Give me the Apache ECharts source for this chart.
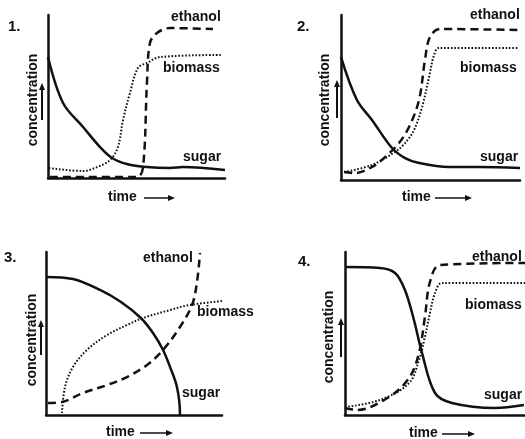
<!DOCTYPE html>
<html>
<head>
<meta charset="utf-8">
<script src="https://cdn.jsdelivr.net/npm/echarts@6/dist/echarts.min.js"></script>
<style>
  html, body { margin: 0; padding: 0; background: #fff; }
  #chart { width: 525px; height: 439px; }
</style>
</head>
<body>
<div id="chart"></div>
<script>
const panelNames = ['1.', '2.', '3.', '4.'];
const seriesNames = ['sugar', 'ethanol', 'biomass'];

const p1Sugar = [[0, 74.2], [8.5, 46], [19.8, 31.3], [29.4, 19], [36.2, 12.3], [44.6, 8.6], [55.9, 6.7], [68.9, 6.1], [76.3, 6.7], [100, 4.9]];
const p1Ethanol = [[1.1, 0.6], [50.3, 0.6], [53.7, 6.7], [55.9, 58.3], [57.6, 82.8], [61.6, 89], [68.9, 92], [93.2, 91.4]];
const p1Biomass = [[0.5, 6.1], [19.8, 4.3], [27.7, 6.7], [35, 11], [39.5, 19], [42.4, 35.6], [46.3, 52.1], [50.8, 67.5], [55.9, 70.6], [63.3, 74.2], [98.3, 75.5]];

const p2Sugar = [[0, 74.5], [8.9, 48.5], [17.3, 36.4], [28.5, 19.4], [35.8, 13.3], [43.6, 10.3], [60.3, 7.9], [77.1, 7.9], [100, 7.3]];
const p2Ethanol = [[1.7, 4.8], [7.8, 4.2], [17.3, 7.9], [24.6, 13.9], [32.4, 22.4], [38, 32.1], [43.6, 48.5], [46.9, 72.7], [49.7, 86.7], [55.3, 91.5], [100, 90.9]];
const p2Biomass = [[1.7, 4.8], [17.3, 9.1], [30.2, 17], [35.8, 22.4], [40.8, 30.3], [45.3, 44.2], [49.2, 62.4], [52, 75.8], [54.7, 80], [99.4, 80]];

const p3Sugar = [[0, 84.7], [15.3, 83.4], [30.7, 76.7], [42.6, 69.3], [53.9, 59.5], [60.8, 50.3], [66.5, 39.9], [70.5, 29.4], [74.4, 17.2], [76.1, 1.2], [76.1, 0]];
const p3Ethanol = [[1.1, 7.4], [9.1, 8], [21, 13.5], [34.7, 18.4], [46, 23.3], [57.4, 30.7], [66.5, 39.9], [76.1, 54], [83, 67.5], [85.8, 81.6], [87.5, 99.4]];
const p3Biomass = [[9.1, 1.2], [10.8, 17.2], [15.3, 29.4], [23.3, 39.9], [34.7, 49.1], [46, 55.2], [55.1, 59.5], [70.5, 64.4], [81.8, 67.5], [106.3, 70.6]];

const p4Sugar = [[0, 90.8], [19.4, 90.2], [27.8, 87.1], [33.3, 76.7], [38.3, 58.3], [42.8, 38], [50, 13.5], [59.4, 7.4], [83.3, 4.3], [99.4, 6.1]];
const p4Ethanol = [[0, 4.3], [6.7, 3.1], [24.4, 11], [35.6, 22.7], [41.1, 38], [44.4, 60.1], [47.2, 81.6], [52.8, 92], [100, 93.3]];
const p4Biomass = [[0, 4.9], [19.4, 9.2], [35.6, 19.6], [41.1, 33.7], [44.4, 47.9], [47.2, 62.6], [50, 74.8], [53.9, 81], [100, 81]];

const panelData = [
  [p1Sugar, p1Ethanol, p1Biomass],
  [p2Sugar, p2Ethanol, p2Biomass],
  [p3Sugar, p3Ethanol, p3Biomass],
  [p4Sugar, p4Ethanol, p4Biomass]
];

const grids = [
  { left: 48, top: 15, width: 177, height: 163 },
  { left: 341, top: 15, width: 179, height: 165 },
  { left: 46, top: 252, width: 176, height: 163 },
  { left: 345, top: 252, width: 180, height: 163 }
];

// label spots: number, ethanol, biomass, sugar, time, concentration, up-arrow
const spots = [
  { num: [8, 27], eth: [171, 17], bio: [163, 68], sug: [183, 157], time: [108, 197, 144, 175], conc: [33, 100], up: [42, 120, 83] },
  { num: [297, 27], eth: [470, 15], bio: [460, 68], sug: [480, 157], time: [402, 197, 435, 472], conc: [325, 100], up: [337, 118, 80] },
  { num: [4, 258], eth: [143, 258], bio: [197, 312], sug: [182, 393], time: [106, 432, 140, 173], conc: [32, 340], up: [41, 355, 320] },
  { num: [298, 262], eth: [472, 257], bio: [465, 305], sug: [484, 395], time: [409, 433, 442, 475], conc: [329, 337], up: [341, 357, 318] }
];

const font = 'bold 14px "Liberation Sans", Arial, sans-serif';
const ink = '#111';

function txt(s, x, y, size) {
  return {
    type: 'text', x: x, y: y,
    style: { text: s, font: size ? 'bold ' + size + 'px "Liberation Sans", Arial, sans-serif' : font, fill: ink, textVerticalAlign: 'middle' }
  };
}

const graphic = [];
spots.forEach((s, i) => {
  graphic.push(txt(panelNames[i], s.num[0], s.num[1], 15));
  graphic.push(txt('ethanol', s.eth[0], s.eth[1]));
  graphic.push(txt('biomass', s.bio[0], s.bio[1]));
  graphic.push(txt('sugar', s.sug[0], s.sug[1]));
  graphic.push(txt('time', s.time[0], s.time[1]));
  // time arrow
  const ay = s.time[1] + 1;
  graphic.push({ type: 'line', shape: { x1: s.time[2], y1: ay, x2: s.time[3] - 5, y2: ay }, style: { stroke: ink, lineWidth: 1.5 } });
  graphic.push({ type: 'polygon', shape: { points: [[s.time[3], ay], [s.time[3] - 7, ay - 3], [s.time[3] - 7, ay + 3]] }, style: { fill: ink } });
  // concentration label
  graphic.push({
    type: 'text', x: s.conc[0], y: s.conc[1], rotation: Math.PI / 2,
    style: { text: 'concentration', font: font, fill: ink, textAlign: 'center', textVerticalAlign: 'middle' }
  });
  // up arrow
  graphic.push({ type: 'line', shape: { x1: s.up[0], y1: s.up[1], x2: s.up[0], y2: s.up[2] + 5 }, style: { stroke: ink, lineWidth: 2 } });
  graphic.push({ type: 'polygon', shape: { points: [[s.up[0], s.up[2]], [s.up[0] - 3, s.up[2] + 7], [s.up[0] + 3, s.up[2] + 7]] }, style: { fill: ink } });
});

const axisBase = {
  type: 'value', min: 0, max: 100,
  axisLabel: { show: false }, axisTick: { show: false }, splitLine: { show: false },
  axisLine: { show: true, onZero: false, lineStyle: { color: ink, width: 2.5 } }
};

const xAxis = grids.map((g, i) => Object.assign({ gridIndex: i }, axisBase));
const yAxis = grids.map((g, i) => Object.assign({ gridIndex: i }, axisBase));

const lineStyles = [
  { color: ink, width: 2.5, type: 'solid' },
  { color: ink, width: 2.5, type: [8, 5] },
  { color: ink, width: 2, type: [1.6, 1.8] }
];

const series = [];
panelData.forEach((set, i) => {
  set.forEach((d, k) => {
    series.push({
      name: seriesNames[k], type: 'line', xAxisIndex: i, yAxisIndex: i,
      data: d, symbol: 'none', smooth: 0.35, clip: false,
      lineStyle: lineStyles[k], silent: true
    });
  });
});

const chart = echarts.init(document.getElementById('chart'));
chart.setOption({
  backgroundColor: '#fff',
  animation: false,
  grid: grids,
  xAxis: xAxis,
  yAxis: yAxis,
  series: series,
  graphic: graphic
});
window.addEventListener('resize', () => chart.resize());
</script>
</body>
</html>
